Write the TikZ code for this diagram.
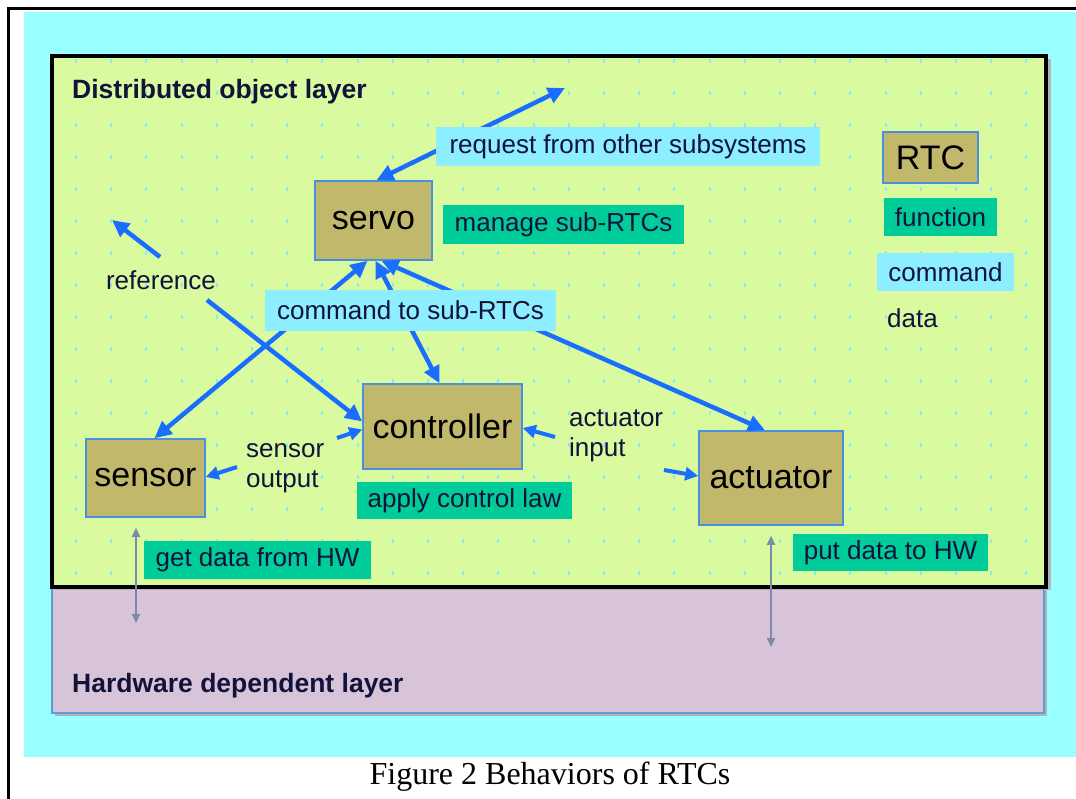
\documentclass[tikz,border=0pt]{standalone}
\usepackage{fontspec}
\setmainfont{Liberation Sans}
\newfontfamily\capfont{Liberation Serif}
\usetikzlibrary{arrows.meta}
\definecolor{bgcyan}{HTML}{99FFFF}
\definecolor{layeryel}{HTML}{D9FA9E}
\definecolor{layerpur}{HTML}{D8C4D8}
\definecolor{rtcfill}{HTML}{C2B86B}
\definecolor{rtcedge}{HTML}{4A90E2}
\definecolor{funcgreen}{HTML}{00CC99}
\definecolor{cmdcyan}{HTML}{8CEEFF}
\definecolor{arrowblue}{HTML}{1A6EFF}
\definecolor{hwgrey}{HTML}{7A8CA8}
\definecolor{txt}{HTML}{12123A}
\definecolor{dotc}{HTML}{90E8E8}
\definecolor{shadowgrey}{HTML}{B4B4B4}
\definecolor{puredge}{HTML}{5B9BE0}
\begin{document}
\begin{tikzpicture}[x=1pt,y=-1pt,
  rtc/.style={draw=rtcedge,line width=1.5pt,fill=rtcfill,inner sep=0pt,text=black,font=\fontsize{34}{40}\selectfont},
  func/.style={fill=funcgreen,inner sep=0pt,text=txt,font=\fontsize{26}{30}\selectfont},
  cmd/.style={fill=cmdcyan,inner sep=0pt,text=txt,font=\fontsize{26}{30}\selectfont},
  lbl/.style={inner sep=0pt,text=txt,font=\fontsize{26}{30}\selectfont},
  layertitle/.style={anchor=west,inner sep=0pt,text=txt,font=\bfseries\fontsize{26.5}{30}\selectfont},
  flow/.style={draw=arrowblue,line width=4.5pt,{Triangle[length=17pt,width=16pt]}-{Triangle[length=17pt,width=16pt]}},
  flowout/.style={draw=arrowblue,line width=4.5pt,-{Triangle[length=17pt,width=16pt]}},
  flowshort/.style={draw=arrowblue,line width=4pt,-{Triangle[length=13pt,width=13pt]}},
  hw/.style={draw=hwgrey,line width=2pt,{Triangle[length=9pt,width=8pt]}-{Triangle[length=9pt,width=8pt]}},
  griddot/.style={draw=dotc,line width=2pt}
]
\useasboundingbox (0,0) rectangle (1076,799);
% background
\fill[white] (0,0) rectangle (1076,799);
\fill[bgcyan] (24,12) rectangle (1076,757);
\draw[black,line width=3pt] (8,799) -- (8,9) -- (1076,9);
% layers
\fill[shadowgrey] (55,590) rectangle (1047,716);
\fill[layerpur] (52,587) rectangle (1044,713);
\draw[puredge,line width=1.5pt] (52,587) -- (52,713) -- (1044,713) -- (1044,587);
\fill[shadowgrey] (55,59) rectangle (1051,590);
\fill[layeryel] (52,56) rectangle (1046,587);
\foreach \i in {0,...,27}{
  \foreach \j in {0,...,16}{
    \draw[griddot] (76+35.2*\i,59+32*\j) -- ++(0,4);
  }
}
\draw[black,line width=3.5pt] (52,56) rectangle (1046,587);
\node[layertitle] (toplayer) at (72,92) {Distributed object layer};
\node[layertitle] (hwlayer) at (72,686) {Hardware dependent layer};
% RTC nodes
\node[rtc,minimum width=117pt,minimum height=79pt] (servo) at (373.5,220.5) {servo};
\node[rtc,minimum width=159pt,minimum height=85pt] (controller) at (442.5,426.5) {controller};
\node[rtc,minimum width=119pt,minimum height=78pt] (sensor) at (145.5,478) {sensor};
\node[rtc,minimum width=144pt,minimum height=94pt] (actuator) at (771,478) {actuator};
\node[rtc,minimum width=95pt,minimum height=51pt] (legrtc) at (930.5,157.5) {RTC};
% free ends
\coordinate (reqEnd) at (565,88);
\coordinate (refTip) at (112,220);
\coordinate (refA) at (160,257);
\coordinate (refB) at (207,300);
\coordinate (soA) at (237,467);
\coordinate (soB) at (337,438);
\coordinate (aiA) at (555,437);
\coordinate (aiB) at (664,470);
\coordinate (hwS) at (136,623);
\coordinate (hwA) at (771,647);
% connectors
\draw[flow] ([xshift=3pt]servo.north) -- (reqEnd);
\draw[flow] ([xshift=-6pt]servo.south) -- ([xshift=9pt]sensor.north);
\draw[flow] ([xshift=2pt]servo.south) -- ([xshift=-3pt]controller.north);
\draw[flow] ([xshift=8pt]servo.south) -- ([xshift=-6pt]actuator.north);
\draw[flowout] (refA) -- (refTip);
\draw[flowout] (refB) -- ([yshift=5pt]controller.west);
\draw[flowshort] (soA) -- ([yshift=1pt]sensor.east);
\draw[flowshort] (soB) -- ([yshift=-3pt]controller.west);
\draw[flowshort] (aiA) -- ([yshift=-1.5pt]controller.east);
\draw[flowshort] (aiB) -- ([yshift=2pt]actuator.west);
\draw[hw] ([xshift=-9.5pt,yshift=-10pt]sensor.south) -- (hwS);
\draw[hw] ([yshift=-10pt]actuator.south) -- (hwA);
% labels
\node[cmd,minimum width=384pt,minimum height=39pt] (request) at (628,146.5) {request from other subsystems};
\node[cmd,minimum width=291pt,minimum height=41pt] (cmdsub) at (410.5,310.5) {command to sub-RTCs};
\node[cmd,minimum width=137pt,minimum height=38pt] (legcmd) at (945.5,272) {command};
\node[func,minimum width=241pt,minimum height=39pt] (manage) at (563.5,224.5) {manage sub-RTCs};
\node[func,minimum width=215pt,minimum height=37pt] (apply) at (464.5,500.5) {apply control law};
\node[func,minimum width=227pt,minimum height=38pt] (getdata) at (257.5,560) {get data from HW};
\node[func,minimum width=195pt,minimum height=37pt] (putdata) at (890.5,552.5) {put data to HW};
\node[func,minimum width=113pt,minimum height=38pt] (legfunc) at (940.5,217) {function};
\node[lbl,anchor=west] (legdata) at (887,318) {data};
\node[lbl] (reflabel) at (161,280) {reference};
\node[lbl,anchor=west,align=left] (sensout) at (246,468) {sensor\\output};
\node[lbl,anchor=west,align=left] (actin) at (569,436) {actuator\\input};
% caption
\node[inner sep=0pt,text=black,font=\capfont\fontsize{32}{36}\selectfont] (caption) at (550,777) {Figure 2 Behaviors of RTCs};
\end{tikzpicture}
\end{document}
